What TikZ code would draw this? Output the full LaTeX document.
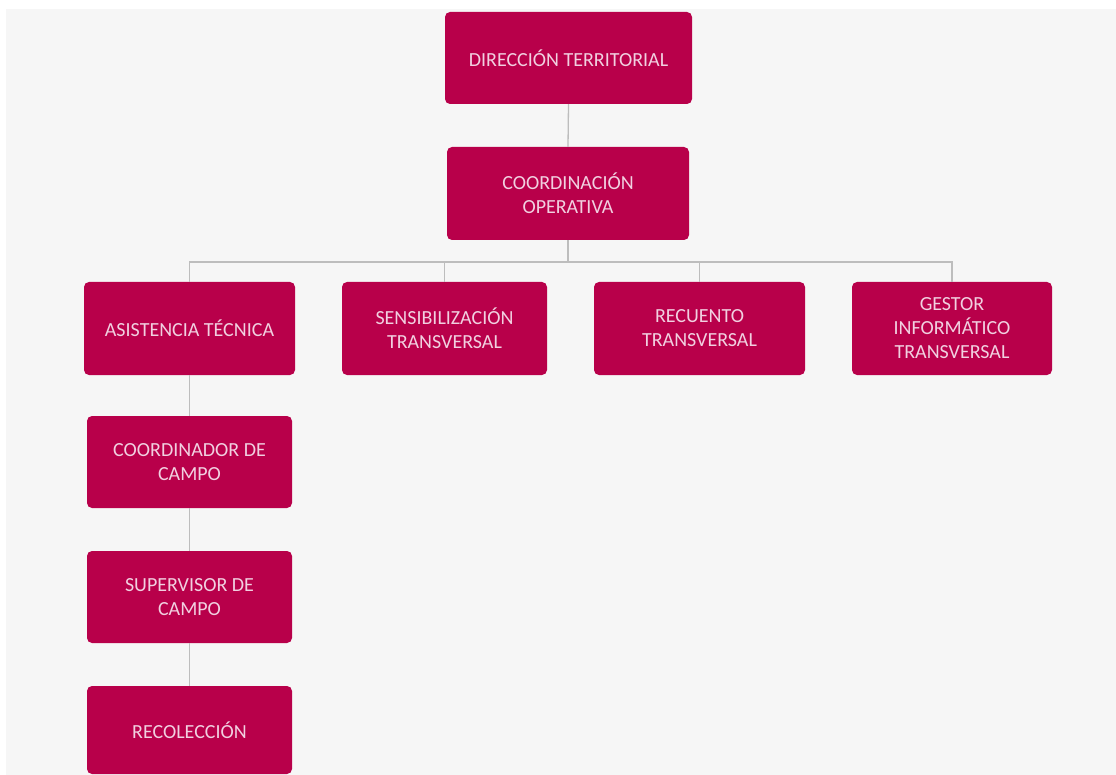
\documentclass[tikz,border=0pt]{standalone}
\usepackage{fontspec}
\setmainfont{Carlito}
\definecolor{boxred}{HTML}{B8004A}
\definecolor{boxtext}{HTML}{F1D0E0}
\definecolor{bggray}{HTML}{F6F6F6}
\definecolor{linegray}{HTML}{BDBDBD}
\begin{document}
\begin{tikzpicture}[x=1pt,y=-1pt,
  orgbox/.style={draw=none,fill=boxred,rounded corners=5pt,text=boxtext,align=center,
    font=\fontsize{20}{24}\selectfont,inner sep=0pt},
  conn/.style={draw=linegray,line width=1.3pt}]
\useasboundingbox (0,0) rectangle (1116,775);
\fill[white] (0,0) rectangle (1116,775);
\fill[bggray] (6,9) rectangle (1116,775);
\node[orgbox,minimum width=247pt,minimum height=92pt] (dir) at (568.5,58) {DIRECCIÓN TERRITORIAL};
\node[orgbox,minimum width=242pt,minimum height=93pt] (coo) at (568,193.5) {COORDINACIÓN\\OPERATIVA};
\node[orgbox,minimum width=211pt,minimum height=93pt] (asi) at (189.5,328.5) {ASISTENCIA TÉCNICA};
\node[orgbox,minimum width=205pt,minimum height=93pt] (sen) at (444.5,328.5) {SENSIBILIZACIÓN\\TRANSVERSAL};
\node[orgbox,minimum width=211pt,minimum height=93pt] (rec) at (699.5,328.5) {RECUENTO\\TRANSVERSAL};
\node[orgbox,minimum width=200pt,minimum height=93pt] (ges) at (952,328.5) {GESTOR\\INFORMÁTICO\\TRANSVERSAL};
\node[orgbox,minimum width=205pt,minimum height=92pt] (cdc) at (189.5,462) {COORDINADOR DE\\CAMPO};
\node[orgbox,minimum width=205pt,minimum height=92pt] (sup) at (189.5,597) {SUPERVISOR DE\\CAMPO};
\node[orgbox,minimum width=205pt,minimum height=88pt] (rcl) at (189.5,730) {RECOLECCIÓN};
\coordinate (bar) at (568,262);
\draw[conn] (dir.south) -- (coo.north);
\draw[conn] (coo.south) -- (bar);
\draw[conn] (asi.north) |- (bar) -| (ges.north);
\draw[conn] (sen.north) -- (sen.north |- bar);
\draw[conn] (rec.north) -- (rec.north |- bar);
\draw[conn] (asi.south) -- (cdc.north);
\draw[conn] (cdc.south) -- (sup.north);
\draw[conn] (sup.south) -- (rcl.north);
\end{tikzpicture}
\end{document}
